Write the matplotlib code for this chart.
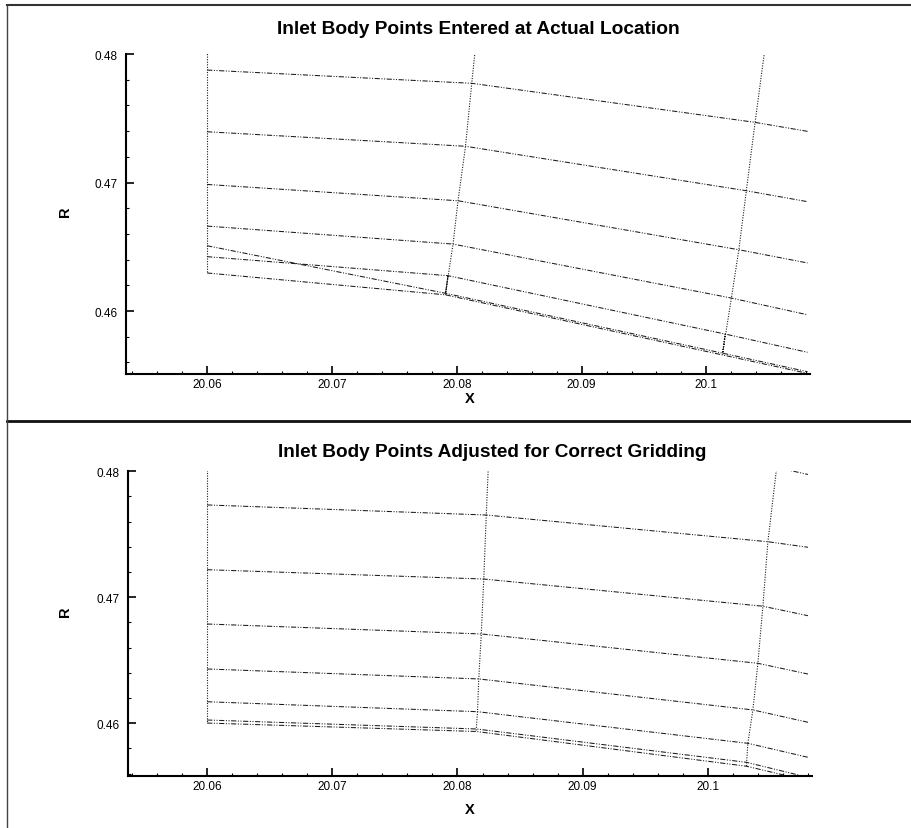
import matplotlib
matplotlib.use("Agg")
import matplotlib.pyplot as plt
from matplotlib.lines import Line2D
import numpy as np

plt.rcParams['font.family'] = ['Liberation Sans', 'DejaVu Sans']

# ---------------- data ----------------
title_top = "Inlet Body Points Entered at Actual Location"
title_bottom = "Inlet Body Points Adjusted for Correct Gridding"
xticks = [20.06, 20.07, 20.08, 20.09, 20.10]
xtick_labels = ["20.06", "20.07", "20.08", "20.09", "20.1"]
yticks = [0.46, 0.47, 0.48]
ytick_labels = ["0.46", "0.47", "0.48"]

# Top panel grid: rows (grid lines along the body), columns = stations
top_x = [
    [20.0600, 20.0816, 20.1047, 20.1081],
    [20.0600, 20.0812, 20.1039, 20.1081],
    [20.0600, 20.0807, 20.1032, 20.1081],
    [20.0600, 20.0801, 20.1026, 20.1081],
    [20.0600, 20.0797, 20.1020, 20.1081],
    [20.0600, 20.0791, 20.1013, 20.1081],
    [20.0600, 20.0793, 20.1015, 20.1081],
    [20.0600, 20.0791, 20.1013, 20.1081],
]
top_r = [
    [0.4820, 0.4815, 0.4805, 0.4802],
    [0.47875, 0.47772, 0.47468, 0.47398],
    [0.47395, 0.47282, 0.46936, 0.46851],
    [0.46985, 0.46858, 0.46477, 0.46374],
    [0.46661, 0.46521, 0.46101, 0.45971],
    [0.46508, 0.46138, 0.45672, 0.45528],
    [0.46423, 0.46275, 0.45821, 0.45679],
    [0.46296, 0.46126, 0.45658, 0.45515],
]

# Bottom panel grid
bot_x = [
    [20.0600, 20.0825, 20.1055, 20.1080],
    [20.0600, 20.0823, 20.1048, 20.1080],
    [20.0600, 20.0821, 20.1044, 20.1080],
    [20.0600, 20.0819, 20.1040, 20.1080],
    [20.0600, 20.0817, 20.1036, 20.1080],
    [20.0600, 20.0816, 20.1032, 20.1080],
    [20.0600, 20.0815, 20.1031, 20.1080],
    [20.0600, 20.0815, 20.1031, 20.1080],
]
bot_r = [
    [0.4815, 0.4812, 0.4803, 0.47975],
    [0.47733, 0.47653, 0.47441, 0.47397],
    [0.47219, 0.47145, 0.46929, 0.46854],
    [0.46788, 0.46709, 0.46476, 0.46391],
    [0.46431, 0.46352, 0.46106, 0.46008],
    [0.46171, 0.46092, 0.45841, 0.45730],
    [0.46026, 0.45955, 0.45690, 0.45571],
    [0.46002, 0.45935, 0.45659, 0.45544],
]

# ---------------- figure ----------------
fig = plt.figure(figsize=(9.11, 8.29), dpi=100)
W, H = 911, 829

def fx(px):
    return px / W

def fy(py):
    return 1 - py / H

hstyle = (0, (5, 1.5, 1, 1.5, 1, 1.5))
vstyle = (0, (1, 1.3))
lcol = '#1a1a1a'


def draw_panel(ax, gx, gr, xlim, ylim):
    gx = np.array(gx)
    gr = np.array(gr)
    for i in range(1, gx.shape[0]):
        ax.plot(gx[i], gr[i], color=lcol, lw=0.75, linestyle=hstyle)
    # top boundary row (mostly outside view)
    ax.plot(gx[0], gr[0], color=lcol, lw=0.75, linestyle=hstyle)
    for j in range(3):
        ax.plot(gx[:, j], gr[:, j], color=lcol, lw=0.8, linestyle=vstyle)
    ax.set_xlim(*xlim)
    ax.set_ylim(*ylim)
    for s in ['top', 'right']:
        ax.spines[s].set_visible(False)
    for s in ['left', 'bottom']:
        ax.spines[s].set_linewidth(1.5)
    ax.set_xticks(xticks)
    ax.set_xticklabels(xtick_labels)
    ax.set_yticks(yticks)
    ax.set_yticklabels(ytick_labels)
    ax.set_xticks(np.arange(20.054, 20.1083, 0.002), minor=True)
    ax.set_yticks(np.arange(0.456, 0.4801, 0.002), minor=True)
    ax.tick_params(which='major', direction='in', length=6, width=1.2,
                   labelsize=8.5)
    ax.tick_params(which='minor', direction='in', length=2.5, width=0.8)
    ax.tick_params(axis='y', which='major', pad=6)
    ax.tick_params(axis='x', which='major', pad=3)


ax1 = fig.add_axes([fx(126), fy(375), fx(810) - fx(126), fy(55) - fy(375)])
draw_panel(ax1, top_x, top_r, (20.0535, 20.1083), (0.4551, 0.48))

ax2 = fig.add_axes([fx(128.3), fy(776.7), fx(811.7) - fx(128.3), fy(472.3) - fy(776.7)])
draw_panel(ax2, bot_x, bot_r, (20.0537, 20.1083), (0.45584, 0.48))

# titles and axis labels
fig.text(fx(478.5), fy(30), title_top, ha='center', va='center',
         fontsize=13.8, fontweight='bold')
fig.text(fx(492), fy(453), title_bottom, ha='center', va='center',
         fontsize=13.7, fontweight='bold')
fig.text(fx(470), fy(399), "X", ha='center', va='center', fontsize=10.5, fontweight='bold')
fig.text(fx(470), fy(810), "X", ha='center', va='center', fontsize=10.5, fontweight='bold')
fig.text(fx(65), fy(212), "R", ha='center', va='center', fontsize=10.5,
         fontweight='bold', rotation=90)
fig.text(fx(65), fy(612), "R", ha='center', va='center', fontsize=10.5,
         fontweight='bold', rotation=90)

# page frame lines (scanned figure borders)
fig.add_artist(Line2D([fx(7), 1], [fy(6), fy(6)], color='#333333', lw=1.5,
                      transform=fig.transFigure))
fig.add_artist(Line2D([fx(7), 1], [fy(421.5), fy(421.5)], color='#111111', lw=2,
                      transform=fig.transFigure))
fig.add_artist(Line2D([fx(7), fx(7)], [fy(6), 0], color='#444444', lw=1,
                      transform=fig.transFigure))

fig.savefig("out.png", dpi=100)
